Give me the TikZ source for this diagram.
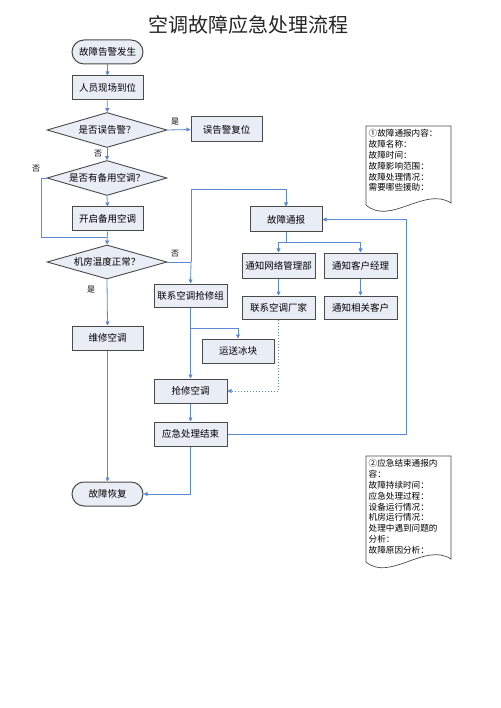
\documentclass[tikz,border=0pt]{standalone}
\usepackage{fontspec}
\newfontfamily\cjk{Noto Sans CJK SC}
\usetikzlibrary{arrows.meta,shapes.geometric,calc}
\definecolor{boxfill}{HTML}{E8EDF6}
\definecolor{boxline}{HTML}{4A4A4A}
\definecolor{flow}{HTML}{5A8AD2}
\begin{document}
\begin{tikzpicture}[x=1pt,y=-1pt,
  box/.style={draw=boxline, fill=boxfill, line width=1pt, minimum width=71pt, minimum height=24pt, inner sep=0pt, font=\cjk\fontsize{9.5}{11}\selectfont},
  stadium/.style={box, rounded corners=12pt},
  decision/.style={diamond, draw=boxline, fill=boxfill, line width=0.9pt, minimum width=120pt, minimum height=35pt, aspect=3.4, inner sep=0pt, font=\cjk\fontsize{9.5}{11}\selectfont},
  conn/.style={draw=flow, line width=0.8pt, -{Triangle[length=4pt,width=4pt]}},
  seg/.style={draw=flow, line width=0.8pt},
  lbl/.style={font=\cjk\fontsize{8}{9}\selectfont, inner sep=0pt},
  note/.style={draw=boxline, fill=white, line width=0.7pt},
  notetext/.style={font=\cjk\fontsize{8.6}{10.8}\selectfont, align=left, inner sep=0pt, anchor=north west}
]
\useasboundingbox (0,0) rectangle (500,708);
\fill[white] (0,0) rectangle (500,708);

\node[font=\cjk\fontsize{20}{22}\selectfont, text=black!85] (title) at (248,25) {空调故障应急处理流程};

% left column
\node[stadium] (n1) at (107.5,52) {故障告警发生};
\node[box] (n2) at (107.5,88) {人员现场到位};
\node[decision] (d1) at (107,130) {是否误告警？};
\node[box, minimum height=25pt] (r1) at (226.5,129.5) {误告警复位};
\node[decision] (d2) at (107,178) {是否有备用空调？};
\node[box] (n3) at (107.5,219) {开启备用空调};
\node[decision, minimum height=34pt] (d3) at (107,262) {机房温度正常？};
\node[box] (n4) at (107.5,338) {维修空调};
\node[stadium] (e1) at (107.5,494) {故障恢复};

% middle column
\node[box, minimum width=73pt, minimum height=23pt] (m1) at (190.5,295.5) {联系空调抢修组};
\node[box, minimum width=72pt] (m2) at (238,351) {运送冰块};
\node[box, minimum width=73pt] (m3) at (190.5,391) {抢修空调};
\node[box, minimum width=73pt] (m4) at (190.5,434) {应急处理结束};

% right column
\node[box, minimum width=72pt, minimum height=25pt] (g) at (286,219.5) {故障通报};
\node[box, minimum width=73pt, minimum height=25pt] (a1) at (278.5,265.5) {通知网络管理部};
\node[box, minimum width=73pt, minimum height=25pt] (a2) at (360.5,265.5) {通知客户经理};
\node[box, minimum width=73pt, minimum height=23pt] (a3) at (278.5,307.5) {联系空调厂家};
\node[box, minimum width=73pt, minimum height=23pt] (a4) at (360.5,307.5) {通知相关客户};

% junction coordinates
\coordinate (j1) at (107,237);
\coordinate (jl) at (41,237);
\coordinate (j2) at (191,262);
\coordinate (jt) at (191,189);
\coordinate (j3) at (286,242);
\coordinate (j4) at (191,328);
\coordinate (jr) at (406,434);

% connectors
\draw[conn] (n1) -- (n2);
\draw[conn] (n2) -- (d1);
\draw[conn] (d1.east) -- (r1.west);
\draw[conn] (d1.south) -- (d2.north);
\draw[conn] (d2.south) -- (n3.north);
\draw[seg] (d2.west) -| (jl) -- (j1);
\draw[conn] (n3.south) -- (d3.north);
\draw[conn] (d3.south) -- (n4.north);
\draw[conn] (n4.south) -- (e1.north);
\draw[seg] (d3.east) -- (j2);
\draw[conn] (j2) -- (jt) -| (g.north);
\draw[conn] (j2) -- (m1.north);
\draw[seg] (g.south) -- (j3);
\draw[conn] (j3) -| (a1.north);
\draw[conn] (j3) -| (a2.north);
\draw[conn] (a1) -- (a3);
\draw[conn] (a2) -- (a4);
\draw[conn] (m1.south) -- (m3.north);
\draw[conn] (j4) -| (m2.north);
\draw[conn, dashed, dash pattern=on 1.5pt off 1.5pt] (a3.south) |- (m3.east);
\draw[conn] (m3) -- (m4);
\draw[conn] (m4.east) -- (jr) |- (g.east);
\draw[conn] (m4.south) |- (e1.east);

% labels
\node[lbl] (l1) at (175,122) {是};
\node[lbl] (l2) at (98,154) {否};
\node[lbl] (l3) at (36,169) {否};
\node[lbl] (l4) at (175,254) {否};
\node[lbl] (l5) at (91,290) {是};

% notes
\path[note] (366,126) -- (451,126) -- (451,203) .. controls (425,186) and (390,226) .. (366,205) -- cycle;
\node[notetext] (t1) at (368.5,129.5) {①故障通报内容：\\故障名称：\\故障时间：\\故障影响范围：\\故障处理情况：\\需要哪些援助：};
\path[note] (366,456) -- (451,456) -- (451,559) .. controls (425,542) and (390,582) .. (366,562) -- cycle;
\node[notetext] (t2) at (368.5,459.5) {②应急结束通报内\\容：\\故障持续时间：\\应急处理过程：\\设备运行情况：\\机房运行情况：\\处理中遇到问题的\\分析：\\故障原因分析：};
\end{tikzpicture}
\end{document}
